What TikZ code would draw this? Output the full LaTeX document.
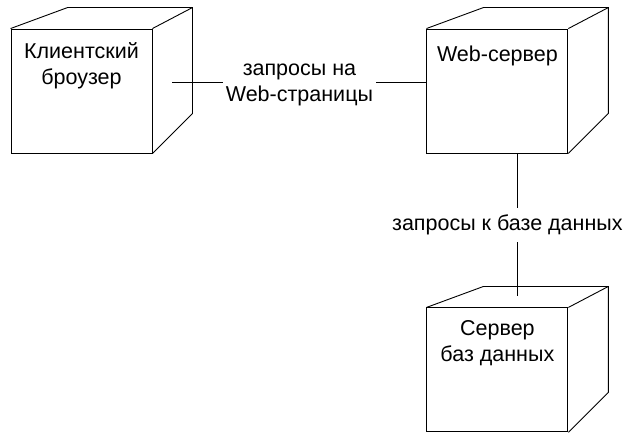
\documentclass[tikz,border=0pt]{standalone}
\usepackage{fontspec}
\setmainfont{Liberation Sans}
\usepackage{tikz}
\usetikzlibrary{positioning, calc}

\begin{document}
\begin{tikzpicture}[x=1pt, y=1pt, every node/.style={font=\fontsize{21.5}{26}\selectfont}]
      \tikzstyle{cube}=[rectangle, draw, line width=0.9pt, minimum width=141pt, minimum height=124pt, inner sep=0pt]
      \tikzstyle{link}=[line width=0.9pt]
      \tikzstyle{tag}=[fill=white, align=center, inner xsep=3pt, inner ysep=7pt]
      \useasboundingbox (0,0) rectangle (623,432);
      \node[cube] (client) at (81.5,341) {};
      \node[cube, right=274pt of client] (web) {};
      \node[cube, below=154pt of web] (db) {};
      % back faces of the boxes
      \foreach \n in {client, web, db} {
        \draw[link] (\n.north west) -- ++(57,21) -- ($(\n.north east)+(40,21)$) -- ($(\n.south east)+(40,40)$) -- (\n.south east);
        \draw[link] (\n.north east) -- ++(40,21);
      }
      \node[below=10pt of client.north, align=center] (clientname) {Клиентский\\броузер};
      \node[below=14pt of web.north, align=center] (webname) {Web-сервер};
      \node[below=10pt of db.north, align=center] (dbname) {Сервер\\баз данных};
      \coordinate (clientside) at ($(client.east)+(20,9)$);
      \coordinate (webbottom) at ($(web.south)+(20,0)$);
      \coordinate (dbtop) at ($(db.north)+(20,11)$);
      \draw[link] (clientside) -- (clientside -| web.west) node[midway, tag, yshift=-3pt] (pagereq) {запросы на\\Web-страницы};
      \draw[link] (webbottom) -- (dbtop) node[midway, tag, xshift=-10pt] (dbreq) {запросы к базе данных};
    \end{tikzpicture}
\end{document}
